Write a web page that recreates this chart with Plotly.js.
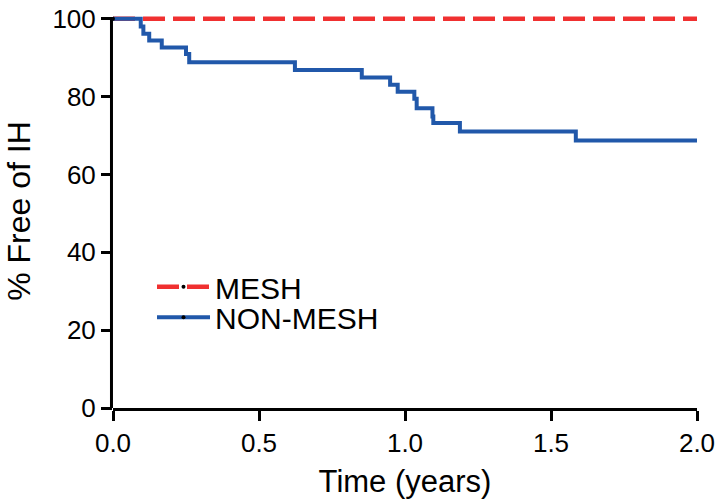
<!DOCTYPE html>
<html>
<head>
<meta charset="utf-8">
<script src="https://cdn.plot.ly/plotly-3.0.1.min.js"></script>
<style>html,body{margin:0;padding:0;background:#fff;}#chart{width:720px;height:501px;}</style>
</head>
<body>
<div id="chart"></div>
<script>
// Kaplan-Meier data
const meshTime = [0, 2.0];
const meshFree = [100, 100];

const nonMeshTime = [0, 0.095, 0.104, 0.124, 0.167, 0.250, 0.261, 0.623, 0.852, 0.949, 0.975, 1.032, 1.040, 1.094, 1.097, 1.188, 1.585, 2.0];
const nonMeshFree = [100, 98.0, 96.1, 94.4, 92.6, 90.9, 88.8, 86.8, 84.9, 83.0, 81.2, 79.4, 77.0, 74.9, 73.2, 71.0, 68.7, 68.7];

const seriesNames = ['MESH', 'NON-MESH'];
const xTicks = [0, 0.5, 1.0, 1.5, 2.0];
const xTickText = ['0.0', '0.5', '1.0', '1.5', '2.0'];
const yTicks = [0, 20, 40, 60, 80, 100];

const FONT = 'Liberation Sans, Arial, Helvetica, sans-serif';
const Y_TOP = 101.2; // small headroom so the 100% line is not clipped

function dotColors(n) {
  const c = [];
  for (let i = 0; i < n; i++) c.push(i === 0 ? '#000000' : 'rgba(0,0,0,0)');
  return c;
}

const traces = [
  {
    x: meshTime, y: meshFree, name: seriesNames[0],
    type: 'scatter', mode: 'lines+markers', line: {shape: 'hv', color: '#F03030', width: 4.5, dash: '22px,8px'},
    marker: {size: 4, color: dotColors(meshTime.length)},
    legend: 'legend'
  },
  {
    x: nonMeshTime, y: nonMeshFree, name: seriesNames[1],
    type: 'scatter', mode: 'lines+markers', line: {shape: 'hv', color: '#2158AA', width: 4},
    marker: {size: 4, color: dotColors(nonMeshTime.length)},
    legend: 'legend2'
  }
];

// plot area: top at Y_TOP, 100% at pixel 19
const plotH = 389 * Y_TOP / 100;
const topMargin = 408 - plotH;

const layout = {
  width: 720, height: 501,
  margin: {l: 113, r: 23, t: topMargin, b: 93},
  paper_bgcolor: '#fff', plot_bgcolor: '#fff',
  font: {family: FONT, color: '#000'},
  showlegend: true,
  xaxis: {
    range: [0, 2], tickvals: xTicks, ticktext: xTickText,
    showgrid: false, zeroline: false, showline: true, linecolor: '#000', linewidth: 3,
    ticks: 'outside', ticklen: 10, tickwidth: 3, tickcolor: '#000',
    tickfont: {family: FONT, size: 26, color: '#000'},
    title: {text: 'Time (years)', font: {family: FONT, size: 31, color: '#000'}, standoff: 14}
  },
  yaxis: {
    range: [0, Y_TOP], tickvals: yTicks,
    showgrid: false, zeroline: false, showline: false,
    ticks: 'outside', ticklen: 11, tickwidth: 3, tickcolor: '#000',
    tickfont: {family: FONT, size: 26, color: '#000'},
    title: {text: '% Free of IH', font: {family: FONT, size: 32, color: '#000'}, standoff: 12}
  },
  shapes: [
    {type: 'line', xref: 'paper', yref: 'y', x0: -0.0026, x1: -0.0026, y0: -3, y1: 100.4,
     line: {color: '#000', width: 3}, layer: 'above'}
  ],
  legend: {
    x: 0.0668, xanchor: 'left', y: 0.3075, yanchor: 'middle',
    bgcolor: 'rgba(0,0,0,0)', font: {family: FONT, size: 30, color: '#000'}, itemwidth: 53
  },
  legend2: {
    x: 0.0668, xanchor: 'left', y: 0.2305, yanchor: 'middle',
    bgcolor: 'rgba(0,0,0,0)', font: {family: FONT, size: 30, color: '#000'}, itemwidth: 53
  }
};

Plotly.newPlot('chart', traces, layout, {displayModeBar: false, staticPlot: true});
</script>
</body>
</html>
